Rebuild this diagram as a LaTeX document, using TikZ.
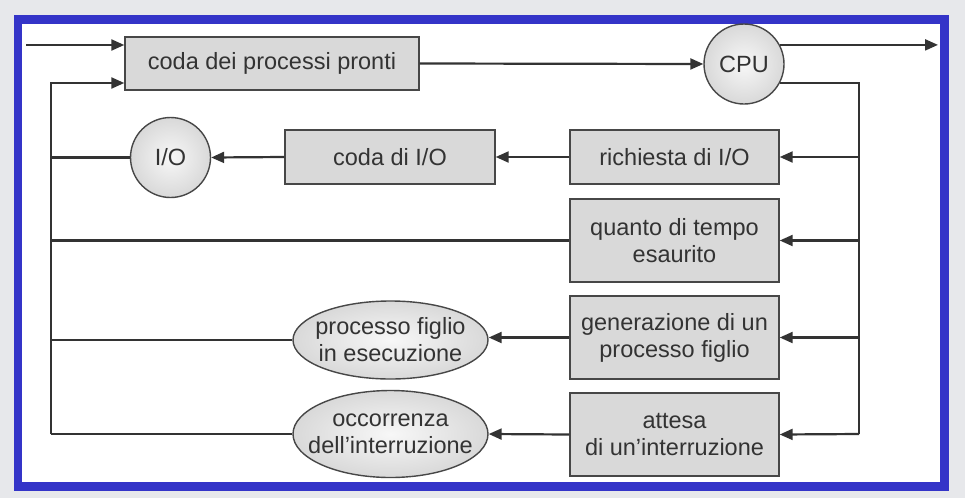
\documentclass[tikz,border=0pt]{standalone}
\usepackage{fontspec}
\setmainfont{Liberation Sans}
\usetikzlibrary{arrows.meta,shapes.geometric}
\definecolor{frameblue}{HTML}{3434C8}
\definecolor{bggray}{HTML}{E7E8EB}
\definecolor{ink}{HTML}{333333}
\definecolor{boxfill}{HTML}{D9D9D9}
\begin{document}
\begin{tikzpicture}[x=1pt,y=-1pt,
  every node/.style={font=\fontsize{23.5}{27}\selectfont, text=ink, align=center, inner sep=0pt},
  procbox/.style={draw=ink!90, line width=1.4pt, fill=boxfill, rectangle, minimum width=209pt},
  resource/.style={draw=ink!90, line width=1.4pt, circle, minimum size=80pt, inner color=gray!6, outer color=gray!30},
  event/.style={draw=ink!90, line width=1.4pt, ellipse, minimum width=195pt, inner color=gray!6, outer color=gray!30},
  flow/.style={draw=ink, line width=2.2pt, -{Triangle[length=13pt,width=11pt]}},
  wire/.style={draw=ink, line width=2.2pt}
]
% background and frame
\fill[bggray] (0,0) rectangle (965,498);
\fill[frameblue] (14,15) rectangle (949,491);
\fill[white] (22,24) rectangle (940,482);
\useasboundingbox (0,0) rectangle (965,498);

% nodes
\node[procbox, minimum width=294pt, minimum height=53pt] (pronti) at (272,63.5) {coda dei processi pronti};
\node[resource] (cpu) at (744,64) {CPU};
\node[resource] (io) at (170.5,157.5) {I/O};
\node[procbox, minimum width=210pt, minimum height=54pt] (codaio) at (390,157) {coda di I/O};
\node[procbox, minimum height=54pt] (rich) at (674.5,157) {richiesta di I/O};
\node[procbox, minimum height=83pt] (quanto) at (674.5,240.5) {quanto di tempo\\esaurito};
\node[procbox, minimum height=83pt] (gen) at (674.5,337.5) {generazione di un\\processo figlio};
\node[procbox, minimum height=83pt] (attesa) at (674.5,434.5) {attesa\\di un’interruzione};
\node[event, minimum height=78pt] (figlio) at (390.5,340) {};
\node (figliotext) at (figlio.center) {processo figlio\\in esecuzione};
\node[event, minimum height=87pt] (occ) at (390.5,434) {};
\node (occtext) at (occ.center) {occorrenza\\dell’interruzione};

% helper coordinates
\coordinate (in) at (26,45);
\coordinate (out) at (938,45);
\coordinate (lt) at (51,83);
\coordinate (lb) at (51,434);
\coordinate (rt) at (859,83);
\coordinate (rb) at (859,434);

% connectors
\draw[flow] (in) -- (in -| pronti.west);
\draw[flow] (lb) -- (lt) -- (lt -| pronti.west);
\draw[flow] (pronti.east) -- (cpu.west);
\draw[flow] (cpu.28) -- (cpu.28 -| out);
\draw[wire] (cpu.-28) -- (cpu.-28 -| rt) -- (rb);
\draw[flow] (rich.east -| rt) -- (rich.east);
\draw[flow] (quanto.east -| rt) -- (quanto.east);
\draw[flow] (gen.east -| rt) -- (gen.east);
\draw[flow] (rb) -- (attesa.east);
\draw[flow] (rich.west) -- (codaio.east);
\draw[flow] (codaio.west) -- (io.east);
\draw[wire] (io.west) -- (io.west -| lt);
\draw[wire] (quanto.west) -- (quanto.west -| lt);
\draw[flow] (gen.west) -- (gen.west -| figlio.east);
\draw[wire] (figlio.west) -- (figlio.west -| lt);
\draw[flow] (attesa.west) -- (occ.east);
\draw[wire] (occ.west) -- (lb);
\end{tikzpicture}
\end{document}
